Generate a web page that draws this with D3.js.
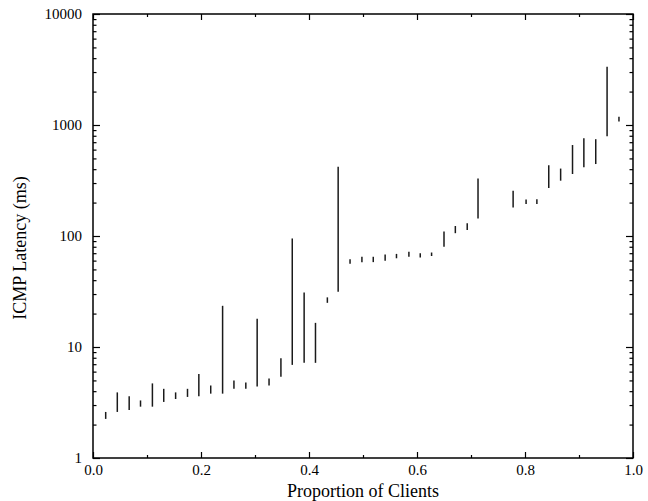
<!DOCTYPE html>
<html>
<head>
<meta charset="utf-8">
<script src="https://cdn.jsdelivr.net/npm/d3@7"></script>
<style>
  html, body { margin: 0; padding: 0; background: #fff; }
  svg { display: block; }
  .tick text { font-family: "Liberation Serif", "DejaVu Serif", serif; font-size: 15px; fill: #000; }
</style>
</head>
<body>
<svg id="chart" width="648" height="501"></svg>
<script>
// Proportion of clients (x position of each range)
const proportions = [0.0235, 0.045, 0.067, 0.088, 0.110, 0.131, 0.153, 0.175, 0.196, 0.218,
  0.240, 0.261, 0.283, 0.304, 0.326, 0.348, 0.369, 0.391, 0.412, 0.434,
  0.454, 0.476, 0.498, 0.519, 0.541, 0.562, 0.585, 0.606, 0.627, 0.650,
  0.671, 0.693, 0.713, 0.778, 0.802, 0.822, 0.844, 0.866, 0.888, 0.909,
  0.931, 0.952, 0.974];
// Minimum ICMP latency of each range (ms)
const latencyLow = [2.25, 2.6, 2.7, 2.9, 2.9, 3.2, 3.4, 3.55, 3.6, 3.8,
  3.8, 4.2, 4.2, 4.4, 4.5, 5.4, 6.9, 7.2, 7.2, 25,
  31.5, 58, 60, 60, 60, 63, 65, 64, 66, 80,
  106, 113, 144, 181, 200, 194, 270, 315, 362, 416,
  445, 790, 1110];
// Maximum ICMP latency of each range (ms)
const latencyHigh = [2.6, 3.9, 3.6, 3.3, 4.7, 4.2, 3.9, 4.2, 5.7, 4.5,
  23.5, 5.0, 4.8, 18, 5.2, 7.9, 95, 31, 16.5, 28,
  420, 60, 63, 63, 68, 69, 72, 70, 71, 110,
  123, 130, 330, 255, 207, 214, 435, 405, 660, 760,
  745, 3350, 1150];

const xMajorTicks = [0, 0.2, 0.4, 0.6, 0.8, 1.0];
const xMinorTicks = [0.1, 0.3, 0.5, 0.7, 0.9];
const yMajorTicks = [1, 10, 100, 1000, 10000];

const W = 648, H = 501;
const margin = { left: 93, right: 15, top: 14, bottom: 43 };
const iw = W - margin.left - margin.right;
const ih = H - margin.top - margin.bottom;

const svg = d3.select("#chart");
const g = svg.append("g").attr("transform", `translate(${margin.left},${margin.top})`);

const x = d3.scaleLinear().domain([0, 1]).range([0, iw]);
const y = d3.scaleLog().domain([1, 10000]).range([ih, 0]);

const yMinor = [];
for (let d = 1; d < 10000; d *= 10) for (let k = 2; k <= 9; k++) yMinor.push(d * k);

function style(sel) {
  sel.select(".domain").remove();
  sel.selectAll(".tick line").attr("stroke", "#000").attr("stroke-width", 1.2);
}

// bottom axis
g.append("g").attr("transform", `translate(0,${ih})`)
  .call(d3.axisBottom(x).tickValues(xMajorTicks).tickFormat(d3.format(".1f")).tickSize(-6).tickPadding(6))
  .call(style);
g.append("g").attr("transform", `translate(0,${ih})`)
  .call(d3.axisBottom(x).tickValues(xMinorTicks).tickFormat("").tickSize(-3))
  .call(style);
// top axis
g.append("g")
  .call(d3.axisTop(x).tickValues(xMajorTicks).tickFormat("").tickSize(-6))
  .call(style);
g.append("g")
  .call(d3.axisTop(x).tickValues(xMinorTicks).tickFormat("").tickSize(-3))
  .call(style);
// left axis
g.append("g")
  .call(d3.axisLeft(y).tickValues(yMajorTicks).tickFormat(d3.format("d")).tickSize(-7).tickPadding(11))
  .call(style);
g.append("g")
  .call(d3.axisLeft(y).tickValues(yMinor).tickFormat("").tickSize(-3.5))
  .call(style);
// right axis
g.append("g").attr("transform", `translate(${iw},0)`)
  .call(d3.axisRight(y).tickValues(yMajorTicks).tickFormat("").tickSize(-7))
  .call(style);
g.append("g").attr("transform", `translate(${iw},0)`)
  .call(d3.axisRight(y).tickValues(yMinor).tickFormat("").tickSize(-3.5))
  .call(style);

// frame
g.append("rect").attr("x", 0).attr("y", 0).attr("width", iw).attr("height", ih)
  .attr("fill", "none").attr("stroke", "#000").attr("stroke-width", 1.5);

// range segments (very short ranges get a minimum visible length)
const data = proportions.map((p, i) => ({ p, lo: latencyLow[i], hi: latencyHigh[i] }));
const pad = d => (y(d.lo) - y(d.hi) < 3 ? 1.5 : 0);
g.append("g").selectAll("line").data(data).join("line")
  .attr("x1", d => x(d.p)).attr("x2", d => x(d.p))
  .attr("y1", d => y(d.lo) + pad(d))
  .attr("y2", d => y(d.hi) - pad(d))
  .attr("stroke", "#1a1a1a").attr("stroke-width", 1.5);

// axis titles
svg.append("text")
  .attr("x", margin.left + iw / 2).attr("y", H - 4)
  .attr("text-anchor", "middle")
  .attr("font-family", "Liberation Serif, DejaVu Serif, serif").attr("font-size", 18)
  .text("Proportion of Clients");
svg.append("text")
  .attr("transform", `translate(26,248) rotate(-90)`)
  .attr("text-anchor", "middle")
  .attr("font-family", "Liberation Serif, DejaVu Serif, serif").attr("font-size", 18)
  .text("ICMP Latency (ms)");
</script>
</body>
</html>
